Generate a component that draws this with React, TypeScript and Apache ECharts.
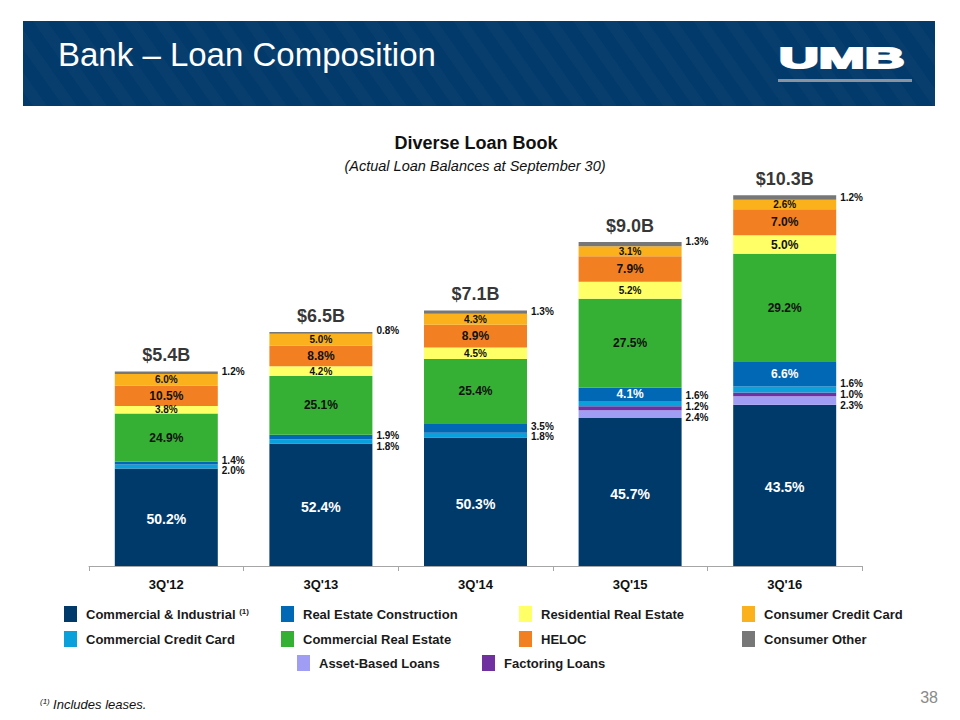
import React, { useEffect, useRef } from "react";
import * as echarts from "echarts";

// ---------- data ----------
const categories = ["3Q'12", "3Q'13", "3Q'14", "3Q'15", "3Q'16"];
const totalsB = [5.4, 6.5, 7.1, 9.0, 10.3];
const commercialIndustrial = [50.2, 52.4, 50.3, 45.7, 43.5];
const assetBasedLoans = [0, 0, 0, 2.4, 2.3];
const factoringLoans = [0, 0, 0, 1.2, 1.0];
const commercialCreditCard = [2.0, 1.8, 1.8, 1.6, 1.6];
const realEstateConstruction = [1.4, 1.9, 3.5, 4.1, 6.6];
const commercialRealEstate = [24.9, 25.1, 25.4, 27.5, 29.2];
const residentialRealEstate = [3.8, 4.2, 4.5, 5.2, 5.0];
const helocLoans = [10.5, 8.8, 8.9, 7.9, 7.0];
const consumerCreditCard = [6.0, 5.0, 4.3, 3.1, 2.6];
const consumerOther = [1.2, 0.8, 1.3, 1.3, 1.2];

// ---------- styling / layout ----------
const FONT = '"Liberation Sans", Arial, Helvetica, sans-serif';
const NAVY = "#023a6b";

const seriesDefs = [
  { name: "Commercial & Industrial", pct: commercialIndustrial, color: "#003a6b", text: "#ffffff", outside: false },
  { name: "Asset-Based Loans", pct: assetBasedLoans, color: "#a09df4", text: "#111", outside: true },
  { name: "Factoring Loans", pct: factoringLoans, color: "#7030a0", text: "#111", outside: true },
  { name: "Commercial Credit Card", pct: commercialCreditCard, color: "#0aa0dc", text: "#111", outside: true },
  { name: "Real Estate Construction", pct: realEstateConstruction, color: "#0068b4", text: "#ffffff", outside: false },
  { name: "Commercial Real Estate", pct: commercialRealEstate, color: "#35b035", text: "#111", outside: false },
  { name: "Residential Real Estate", pct: residentialRealEstate, color: "#ffff66", text: "#111", outside: false },
  { name: "HELOC", pct: helocLoans, color: "#f28022", text: "#111", outside: false },
  { name: "Consumer Credit Card", pct: consumerCreditCard, color: "#fbb11c", text: "#111", outside: false },
  { name: "Consumer Other", pct: consumerOther, color: "#777777", text: "#111", outside: true },
];

// vertical nudges (px) for labels placed to the right of the bars
const outsideNudge: Record<string, number[]> = {
  "Asset-Based Loans": [0, 0, 0, 3.5, 5],
  "Factoring Loans": [0, 0, 0, -1.5, 0.5],
  "Commercial Credit Card": [4.5, 5.5, 1.6, -7.7, -5.5],
  "Real Estate Construction": [-3, -1, -1.6, 0, 0],
  "Consumer Other": [-1, -2, -1, -2.5, 0],
};

function buildData(def: any) {
  return def.pct.map((p: number, i: number) => {
    const v = (p * totalsB[i]) / 100;
    const isOut = def.outside || (def.name === "Real Estate Construction" && v < 0.3);
    let label: any;
    if (isOut) {
      label = {
        show: p > 0,
        position: "right",
        distance: 4,
        offset: [0, (outsideNudge[def.name] || [])[i] || 0],
        color: "#111",
        fontSize: 10,
        fontWeight: "bold",
        fontFamily: FONT,
        formatter: `${p.toFixed(1)}%`,
      };
    } else {
      let fs = v >= 0.5 ? 12 : 10;
      if (def.name === "Commercial & Industrial") fs = 14;
      if (def.name === "Real Estate Construction") fs = 12;
      label = {
        show: true,
        position: "inside",
        offset: def.name === "Commercial & Industrial" ? [0, 2] : [0, 0],
        color: def.text,
        fontSize: fs,
        fontWeight: "bold",
        fontFamily: FONT,
        formatter: `${p.toFixed(1)}%`,
      };
    }
    return { value: v, label };
  });
}

// banner stripes (clipped parallelograms)
function clipX(pts: number[][], x0: number, x1: number) {
  const clip = (poly: number[][], inside: (p: number[]) => boolean, xc: number) => {
    const out: number[][] = [];
    for (let i = 0; i < poly.length; i++) {
      const a = poly[i];
      const b = poly[(i + 1) % poly.length];
      const ia = inside(a);
      const ib = inside(b);
      if (ia) out.push(a);
      if (ia !== ib) {
        const t = (xc - a[0]) / (b[0] - a[0]);
        out.push([xc, a[1] + t * (b[1] - a[1])]);
      }
    }
    return out;
  };
  let p = clip(pts, (q) => q[0] >= x0, x0);
  if (p.length) p = clip(p, (q) => q[0] <= x1, x1);
  return p;
}

function bannerGraphics() {
  const X0 = 23, X1 = 935, Y0 = 21, Y1 = 106;
  const els: any[] = [
    { type: "rect", shape: { x: X0, y: Y0, width: X1 - X0, height: Y1 - Y0 }, style: { fill: NAVY } },
  ];
  const dx = 60;
  for (let a = X0 - dx - 20; a < X1; a += 30) {
    const poly = clipX(
      [
        [a, Y0],
        [a + 14, Y0],
        [a + 14 + dx, Y1],
        [a + dx, Y1],
      ],
      X0,
      X1
    );
    if (poly.length >= 3) {
      els.push({ type: "polygon", shape: { points: poly }, style: { fill: "rgba(255,255,255,0.022)" }, silent: true });
    }
  }
  els.push({
    type: "text",
    x: 58,
    y: 54,
    style: { text: "Bank – Loan Composition", fill: "#ffffff", font: `33px ${FONT}`, verticalAlign: "middle", align: "left" },
  });
  els.push({
    type: "text",
    x: 779,
    y: 58,
    scaleX: 1.9,
    style: {
      text: "UMB",
      fill: "#ffffff",
      stroke: "#ffffff",
      lineWidth: 2,
      font: `bold 29px ${FONT}`,
      verticalAlign: "middle",
      align: "left",
    },
  });
  els.push({ type: "rect", shape: { x: 778, y: 79, width: 134, height: 3 }, style: { fill: "#8a939e" } });
  return els;
}

const legendCommon = {
  orient: "vertical",
  itemWidth: 13,
  itemHeight: 16,
  itemGap: 9,
  padding: 0,
  icon: "rect",
  selectedMode: false,
  textStyle: {
    color: "#1a1a1a",
    fontSize: 13,
    fontWeight: "bold",
    fontFamily: FONT,
    padding: [0, 0, 0, 4],
    rich: {
      sup: { fontSize: 8, fontWeight: "bold", fontFamily: FONT, color: "#1a1a1a", verticalAlign: "top", lineHeight: 8 },
    },
  },
  formatter: (name: string) => (name === "Commercial & Industrial" ? `${name} {sup|(1)}` : name),
};

export default function App() {
  const ref = useRef<HTMLDivElement>(null);
  useEffect(() => {
    if (!ref.current) return;
    const chart = echarts.init(ref.current, null, { renderer: "svg" });
    const barSeries = seriesDefs.map((d) => ({
      name: d.name,
      type: "bar",
      stack: "loans",
      barWidth: 103,
      itemStyle: { color: d.color },
      emphasis: { disabled: true },
      data: buildData(d),
    }));
    const option: any = {
      animation: false,
      backgroundColor: "#ffffff",
      grid: { left: 89, right: 98, top: 170, bottom: 154 },
      xAxis: {
        type: "category",
        data: categories,
        axisLine: { lineStyle: { color: "#a6a6a6", width: 1 } },
        axisTick: { show: true, length: 5, lineStyle: { color: "#a6a6a6" } },
        axisLabel: { color: "#111", fontSize: 13, fontWeight: "bold", fontFamily: FONT, margin: 12 },
      },
      yAxis: { type: "value", min: 0, max: 11, show: false, splitLine: { show: false } },
      legend: [
        { ...legendCommon, left: 64, top: 606, data: ["Commercial & Industrial", "Commercial Credit Card"] },
        { ...legendCommon, left: 281, top: 606, data: ["Real Estate Construction", "Commercial Real Estate"] },
        { ...legendCommon, left: 519, top: 606, data: ["Residential Real Estate", "HELOC"] },
        { ...legendCommon, left: 742, top: 606, data: ["Consumer Credit Card", "Consumer Other"] },
        { ...legendCommon, left: 297, top: 655, data: ["Asset-Based Loans"] },
        { ...legendCommon, left: 482, top: 655, data: ["Factoring Loans"] },
      ],
      series: [
        ...barSeries,
        {
          name: "Total",
          type: "scatter",
          data: totalsB,
          symbolSize: 1,
          itemStyle: { color: "rgba(0,0,0,0)" },
          silent: true,
          z: 10,
          label: {
            show: true,
            position: "top",
            distance: 7,
            color: "#000",
            fontSize: 18,
            fontWeight: "bold",
            fontFamily: FONT,
            formatter: (p: any) => `$${totalsB[p.dataIndex].toFixed(1)}B`,
          },
        },
      ],
      graphic: [
        ...bannerGraphics(),
        {
          type: "text",
          x: 476,
          y: 143,
          style: { text: "Diverse Loan Book", fill: "#111", font: `bold 18px ${FONT}`, align: "center", verticalAlign: "middle" },
        },
        {
          type: "text",
          x: 475,
          y: 166,
          style: {
            text: "(Actual Loan Balances at September 30)",
            fill: "#111",
            font: `italic 14.5px ${FONT}`,
            align: "center",
            verticalAlign: "middle",
          },
        },
        {
          type: "text",
          x: 40,
          y: 704,
          style: {
            text: "{s|(1)} {t|Includes leases.}",
            verticalAlign: "middle",
            align: "left",
            rich: {
              s: { fontSize: 8, fontStyle: "italic", fontFamily: FONT, fill: "#111", verticalAlign: "top", lineHeight: 8 },
              t: { fontSize: 13, fontStyle: "italic", fontFamily: FONT, fill: "#111" },
            },
          },
        },
        {
          type: "text",
          x: 938,
          y: 697,
          style: { text: "38", fill: "#8a8a8a", font: `16px ${FONT}`, align: "right", verticalAlign: "middle" },
        },
      ],
    };
    chart.setOption(option);
    return () => chart.dispose();
  }, []);
  return <div ref={ref} style={{ position: "fixed", left: 0, top: 0, width: 960, height: 720 }} />;
}
